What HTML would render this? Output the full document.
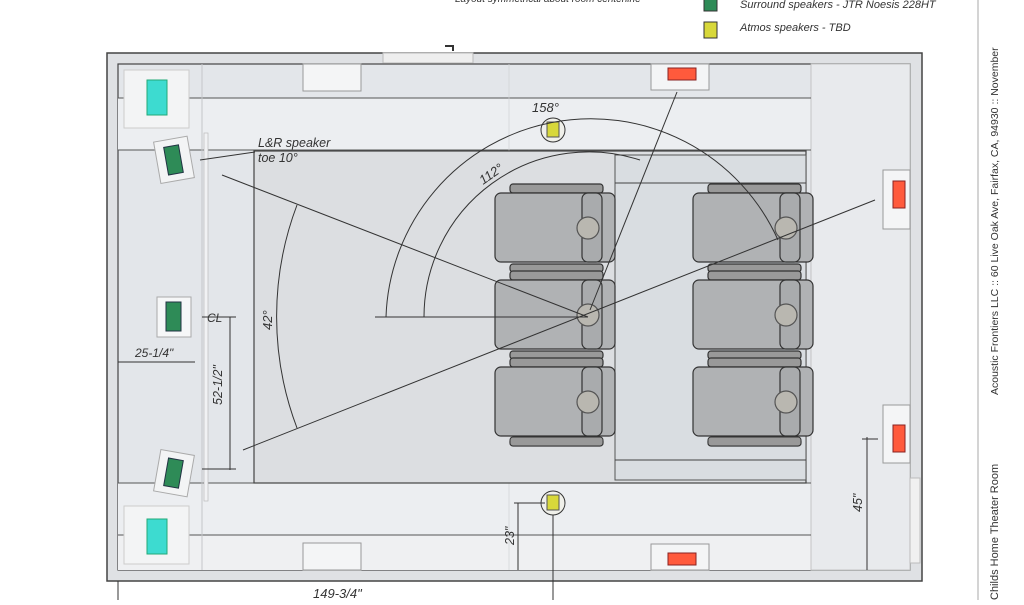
<!DOCTYPE html>
<html><head><style>
body{margin:0;background:#fff;width:1024px;height:600px;overflow:hidden}
svg text{font-family:"Liberation Sans",sans-serif;font-style:italic;fill:#333}
</style></head><body>
<svg width="1024" height="600" viewBox="0 0 1024 600" xmlns="http://www.w3.org/2000/svg">
<text x="455" y="2" font-size="10" fill="#555">Layout symmetrical about room centerline</text>
<rect x="704" y="-4" width="13" height="15" fill="#2e8b57" stroke="#333" stroke-width="1"/>
<text x="740" y="8" font-size="11">Surround speakers - JTR Noesis 228HT</text>
<rect x="704" y="22" width="13" height="16" fill="#d8d83a" stroke="#333" stroke-width="1"/>
<text x="740" y="31" font-size="11">Atmos speakers - TBD</text>
<line x1="978" y1="0" x2="978" y2="600" stroke="#aaa"/>
<text transform="translate(998,395) rotate(-90)" font-size="10.5" font-style="normal" fill="#666" style="font-style:normal">Acoustic Frontiers LLC  ::  60 Live Oak Ave, Fairfax, CA, 94930  ::  November</text>
<text transform="translate(998,600) rotate(-90)" font-size="11" fill="#444" style="font-style:normal">Childs Home Theater Room</text>
<!-- room -->
<rect x="107" y="53" width="815" height="528" fill="#dfe1e4" stroke="#444" stroke-width="1.5"/>
<rect x="118" y="64" width="792" height="506" fill="#e3e6ea" stroke="#444" stroke-width="1.2"/>
<rect x="118" y="98" width="693" height="52" fill="#eceef1"/>
<rect x="118" y="483" width="693" height="52" fill="#eceef1"/>
<rect x="118" y="535" width="693" height="35" fill="#eff0f2"/>
<rect x="811" y="64" width="99" height="506" fill="#e8eaed" stroke="#bbb" stroke-width="0.8"/>
<line x1="118" y1="98" x2="811" y2="98" stroke="#555"/>
<line x1="118" y1="150" x2="811" y2="150" stroke="#555"/>
<line x1="118" y1="483" x2="811" y2="483" stroke="#555"/>
<line x1="118" y1="535" x2="811" y2="535" stroke="#555"/>
<line x1="202" y1="64" x2="202" y2="570" stroke="#c4c6c9"/>
<line x1="509" y1="64" x2="509" y2="570" stroke="#d0d2d5" stroke-width="0.7"/>
<rect x="204" y="133" width="4" height="368" fill="#f1f2f4" stroke="#bbb" stroke-width="0.7"/>
<rect x="254" y="151" width="552" height="332" fill="#dcdee1" stroke="#444" stroke-width="1.2"/>
<rect x="615" y="155" width="191" height="325" fill="#d9dde1" stroke="#555"/>
<line x1="615" y1="183" x2="806" y2="183" stroke="#444"/>
<line x1="615" y1="460" x2="806" y2="460" stroke="#444"/>
<rect x="383" y="53" width="90" height="10" fill="#eee" stroke="#bbb"/>
<path d="M445 46 h8 v5" fill="none" stroke="#333" stroke-width="2"/>
<rect x="910" y="478" width="10" height="85" fill="#f0f0f0" stroke="#bbb"/>
<!-- windows -->
<rect x="303" y="64" width="58" height="27" fill="#f4f5f6" stroke="#999"/>
<rect x="303" y="543" width="58" height="27" fill="#f4f5f6" stroke="#999"/>
<!-- speakers -->
<rect x="124" y="70" width="65" height="58" fill="#f3f4f5" stroke="#ccc"/>
<rect x="147" y="80" width="20" height="35" fill="#3ddbd0" stroke="#2a7" stroke-width="1"/>
<rect x="124" y="506" width="65" height="58" fill="#f3f4f5" stroke="#ccc"/>
<rect x="147" y="519" width="20" height="35" fill="#3ddbd0" stroke="#2a7"/>
<g transform="rotate(-10 173 160)"><rect x="157" y="139" width="34" height="42" fill="#f3f4f5" stroke="#aaa"/><rect x="166" y="146" width="15" height="28" fill="#2e8b57" stroke="#234"/></g>
<g transform="rotate(10 173 473)"><rect x="157" y="452" width="34" height="42" fill="#f3f4f5" stroke="#aaa"/><rect x="166" y="459" width="15" height="28" fill="#2e8b57" stroke="#234"/></g>
<rect x="157" y="297" width="34" height="40" fill="#f6f7f8" stroke="#aaa"/>
<rect x="166" y="302" width="15" height="29" fill="#2e8b57" stroke="#234"/>
<rect x="651" y="64" width="58" height="26" fill="#f4f5f6" stroke="#999"/>
<rect x="668" y="68" width="28" height="12" fill="#ff5a3c" stroke="#822"/>
<rect x="651" y="544" width="58" height="26" fill="#f4f5f6" stroke="#999"/>
<rect x="668" y="553" width="28" height="12" fill="#ff5a3c" stroke="#822"/>
<rect x="883" y="170" width="27" height="59" fill="#f4f5f6" stroke="#999"/>
<rect x="893" y="181" width="12" height="27" fill="#ff5a3c" stroke="#822"/>
<rect x="883" y="405" width="27" height="58" fill="#f4f5f6" stroke="#999"/>
<rect x="893" y="425" width="12" height="27" fill="#ff5a3c" stroke="#822"/>
<circle cx="553" cy="130" r="12" fill="#f0f0ea" stroke="#333"/><rect x="547" y="122" width="12" height="15" fill="#d8d83a" stroke="#555"/>
<circle cx="553" cy="503" r="12" fill="#f0f0ea" stroke="#333"/><rect x="547" y="495" width="12" height="15" fill="#d8d83a" stroke="#555"/>
<!-- chairs -->
<g id="ch" stroke="#333" stroke-width="1.2">
<rect x="510" y="184" width="93" height="9" rx="3" fill="#999"/>
<rect x="495" y="193" width="120" height="69" rx="6" fill="#b0b2b4"/>
<rect x="582" y="193" width="20" height="69" rx="6" fill="#a9abad"/>
<circle cx="588" cy="228" r="11" fill="#b9b7b0" stroke="#555"/>
<rect x="510" y="264" width="93" height="8" rx="3" fill="#999"/>
</g>
<use href="#ch" y="87"/><use href="#ch" y="174"/>
<rect x="510" y="437" width="93" height="9" rx="3" fill="#999" stroke="#333"/>
<use href="#ch" x="198"/><use href="#ch" x="198" y="87"/><use href="#ch" x="198" y="174"/>
<rect x="708" y="437" width="93" height="9" rx="3" fill="#999" stroke="#333"/>
<!-- lines -->
<g stroke="#333" stroke-width="1" fill="none">
<line x1="222" y1="175" x2="588" y2="317"/>
<line x1="243" y1="450" x2="875" y2="200"/>
<line x1="375" y1="317" x2="588" y2="317"/>
<line x1="677" y1="92" x2="590" y2="310"/>
<line x1="200" y1="160" x2="255" y2="152"/>
<path d="M386 317 A205 205 0 0 1 778 240"/>
<path d="M424 317 A165 165 0 0 1 640 160"/>
<path d="M297 205 A315 315 0 0 0 297 428"/>
<line x1="118" y1="362" x2="195" y2="362"/>
<line x1="230" y1="317" x2="230" y2="470"/><line x1="202" y1="317" x2="236" y2="317"/><line x1="202" y1="469" x2="236" y2="469"/>
<line x1="518" y1="503" x2="518" y2="570"/><line x1="514" y1="503" x2="545" y2="503"/>
<line x1="553" y1="515" x2="553" y2="600"/>
<line x1="867" y1="437" x2="867" y2="570"/><line x1="862" y1="439" x2="878" y2="439"/>
<line x1="118" y1="581" x2="118" y2="600"/>
</g>
<text x="258" y="147" font-size="12.5">L&amp;R speaker</text>
<text x="258" y="162" font-size="12.5">toe 10°</text>
<text x="532" y="112" font-size="13">158°</text>
<text transform="translate(483,185) rotate(-35)" font-size="13">112°</text>
<text transform="translate(272,330) rotate(-90)" font-size="13">42°</text>
<text x="207" y="322" font-size="12">CL</text>
<text x="135" y="357" font-size="12">25-1/4"</text>
<text transform="translate(222,405) rotate(-90)" font-size="12.5">52-1/2"</text>
<text transform="translate(514,545) rotate(-90)" font-size="12.5">23"</text>
<text transform="translate(862,512) rotate(-90)" font-size="12.5">45"</text>
<text x="313" y="598" font-size="13">149-3/4"</text>
</svg>
</body></html>
